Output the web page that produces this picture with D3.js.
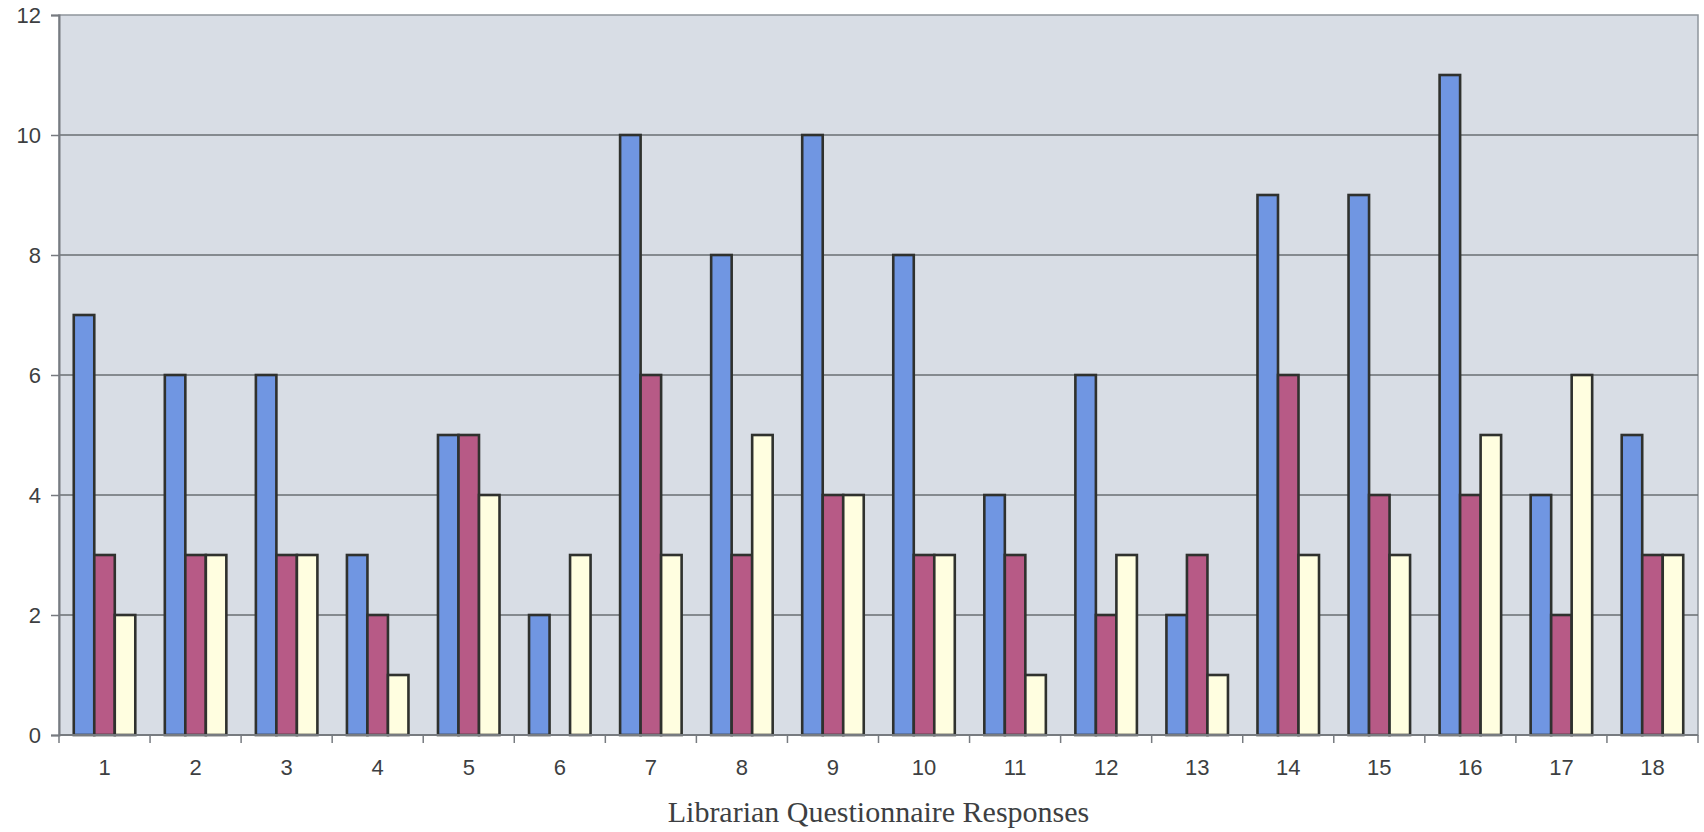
<!DOCTYPE html>
<html>
<head>
<meta charset="utf-8">
<script src="https://cdn.jsdelivr.net/npm/d3@7"></script>
<style>
  body { margin: 0; background: #fff; }
  svg { display: block; }
</style>
</head>
<body>
<div id="chart"></div>
<script>
// data
var categories = ["1","2","3","4","5","6","7","8","9","10","11","12","13","14","15","16","17","18"];
var seriesNames = ["blue", "red", "yellow"];
var blueValues   = [7, 6, 6, 3, 5, 2, 10, 8, 10, 8, 4, 6, 2, 9, 9, 11, 4, 5];
var redValues    = [3, 3, 3, 2, 5, 0, 6, 3, 4, 3, 3, 2, 3, 6, 4, 4, 2, 3];
var yellowValues = [2, 3, 3, 1, 4, 3, 3, 5, 4, 3, 1, 3, 1, 3, 3, 5, 6, 3];
var yTicks = [0, 2, 4, 6, 8, 10, 12];
var xTitle = "Librarian Questionnaire Responses";

var colors = { blue: "#7096e2", red: "#b75a86", yellow: "#fffee0" };

// note: "top" is window.top, so use other names
var W = 1704, H = 832;
var plotLeft = 59, plotRight = 1698, plotTop = 15, plotBottom = 735;

var rows = [];
categories.forEach(function (c, i) {
    rows.push({ cat: c, s: "blue", v: blueValues[i] });
    rows.push({ cat: c, s: "red", v: redValues[i] });
    rows.push({ cat: c, s: "yellow", v: yellowValues[i] });
});

var svg = d3.select("#chart").append("svg")
    .attr("width", W)
    .attr("height", H);

var x0 = d3.scaleBand()
    .domain(categories)
    .range([plotLeft, plotRight]);

var x1 = d3.scaleBand()
    .domain(seriesNames)
    .range([0, x0.bandwidth()])
    .paddingOuter(0.72);

var y = d3.scaleLinear()
    .domain([0, 12])
    .range([plotBottom, plotTop]);

// plot background
svg.append("rect")
    .attr("x", plotLeft).attr("y", plotTop)
    .attr("width", plotRight - plotLeft).attr("height", plotBottom - plotTop)
    .style("fill", "#d8dde5")
    .style("stroke", "#8f959c")
    .style("stroke-width", 1.5);

// gridlines
svg.append("g")
    .selectAll("line")
    .data(yTicks.filter(function (d) { return d > 0 && d < 12; }))
    .enter()
    .append("line")
    .attr("x1", plotLeft).attr("x2", plotRight)
    .attr("y1", function (d) { return y(d); })
    .attr("y2", function (d) { return y(d); })
    .style("stroke", "#6a6e72")
    .style("stroke-width", 1.3);

// bars
svg.append("g")
    .selectAll("rect")
    .data(rows.filter(function (d) { return d.v > 0; }))
    .enter()
    .append("rect")
    .attr("x", function (d) { return x0(d.cat) + x1(d.s); })
    .attr("y", function (d) { return y(d.v); })
    .attr("width", x1.bandwidth())
    .attr("height", function (d) { return y(0) - y(d.v); })
    .style("fill", function (d) { return colors[d.s]; })
    .style("stroke", "#2f312e")
    .style("stroke-width", 2.6);

// y axis
var yAxis = svg.append("g")
    .attr("transform", "translate(" + plotLeft + ",0)")
    .call(d3.axisLeft(y).tickValues(yTicks).tickSize(8).tickPadding(10));
yAxis.select(".domain").style("stroke", "#777b80").style("stroke-width", 2);
yAxis.selectAll(".tick line").style("stroke", "#777b80").style("stroke-width", 1.5);
yAxis.selectAll("text")
    .style("font-family", "'Liberation Sans', Arial, sans-serif")
    .style("font-size", "22px")
    .style("fill", "#3d3f42");

// x axis: ticks at category boundaries
var xAxis = svg.append("g")
    .attr("transform", "translate(0," + plotBottom + ")");
xAxis.append("line")
    .attr("x1", plotLeft).attr("x2", plotRight)
    .style("stroke", "#777b80").style("stroke-width", 2);
xAxis.selectAll(".bt")
    .data(categories.concat(["end"]))
    .enter()
    .append("line")
    .attr("class", "bt")
    .attr("x1", function (d, i) { return plotLeft + i * x0.step(); })
    .attr("x2", function (d, i) { return plotLeft + i * x0.step(); })
    .attr("y1", 0).attr("y2", 8)
    .style("stroke", "#777b80").style("stroke-width", 1.5);
xAxis.selectAll("text")
    .data(categories)
    .enter()
    .append("text")
    .attr("x", function (d) { return x0(d) + x0.bandwidth() / 2; })
    .attr("y", 40)
    .attr("text-anchor", "middle")
    .style("font-family", "'Liberation Sans', Arial, sans-serif")
    .style("font-size", "22px")
    .style("fill", "#3d3f42")
    .text(function (d) { return d; });

// axis title
svg.append("text")
    .attr("x", (plotLeft + plotRight) / 2)
    .attr("y", 822)
    .attr("text-anchor", "middle")
    .style("font-family", "'Liberation Serif', 'Times New Roman', serif")
    .style("font-size", "30px")
    .style("fill", "#3d3f42")
    .text(xTitle);
</script>
</body>
</html>
